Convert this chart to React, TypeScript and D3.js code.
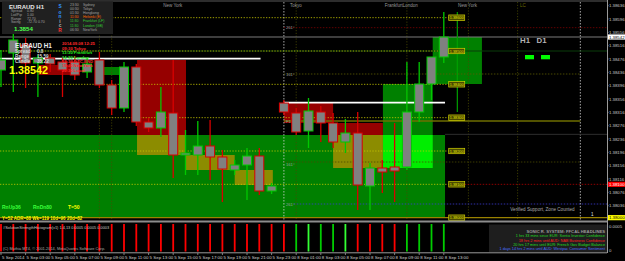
import React from 'react';
import * as d3 from 'd3';

// ---------- data ----------
const OPEN = [1.38443,1.38494,1.38518,1.38464,1.38479,1.38467,1.38467,1.38437,1.38473,1.38398,1.38329,1.38452,1.38287,1.38269,1.38314,1.38188,1.38188,1.38215,1.38182,1.38143,1.38158,1.38185,1.38080,1.38344,1.38314,1.38260,1.38317,1.38284,1.38227,1.38254,1.38095,1.38149,1.38152,1.38152,1.38317,1.38401,1.38482];
const HIGH = [1.38503,1.38563,1.38539,1.38488,1.38491,1.38479,1.38485,1.38479,1.38497,1.38413,1.38467,1.38461,1.38299,1.38392,1.38473,1.38263,1.38290,1.38293,1.38203,1.38173,1.38209,1.38209,1.38104,1.38353,1.38329,1.38359,1.38335,1.38314,1.38296,1.38317,1.38164,1.38173,1.38284,1.38467,1.38467,1.38482,1.38617];
const LOW = [1.38392,1.38377,1.38389,1.38362,1.38437,1.38362,1.38413,1.38419,1.38389,1.38308,1.38317,1.38275,1.38257,1.38242,1.38119,1.38128,1.38128,1.38113,1.38047,1.38128,1.38053,1.38068,1.38071,1.38308,1.38248,1.38209,1.38227,1.38209,1.38194,1.38023,1.38023,1.38074,1.38047,1.38143,1.38287,1.38353,1.38464];
const CLOSE = [1.38473,1.38533,1.38464,1.38479,1.38461,1.38443,1.38428,1.38461,1.38398,1.38329,1.38452,1.38287,1.38269,1.38317,1.38188,1.38194,1.38215,1.38182,1.38146,1.38158,1.38185,1.38080,1.38095,1.38317,1.38257,1.38320,1.38284,1.38227,1.38254,1.38098,1.38149,1.38137,1.38140,1.38317,1.38401,1.38482,1.38542];

const HIST_DIR = ['dn','dn','dn','dn','dn','dn','dn','dn','dn','dn','dn','dn','dn','dn','dn','dn','dn','dn','dn','dn','dn','dn','dn','dn','up','up2','up','up','up2','dn','dn','dn','dn','up','up','up','up'];
const HIST_VAL = [0.0005,0.0005,0.0005,0.0005,0.0005,0.0005,0.0005,0.0005,0.0005,0.0005,0.0005,0.0005,0.0005,0.0005,0.0005,0.0005,0.0005,0.0005,0.0005,0.0005,0.0005,0.0005,0.0005,0.0005,0.0005,0.0005,0.0005,0.0005,0.0005,0.0005,0.0005,0.0005,0.0005,0.0005,0.0005,0.0005,0.0005];

const TIME_LABELS = ['5 Sep 2014','5 Sep 03:00','5 Sep 05:00','5 Sep 07:00','5 Sep 09:00','5 Sep 11:00','5 Sep 13:00','5 Sep 15:00','5 Sep 17:00','5 Sep 19:00','5 Sep 21:00','5 Sep 23:00','8 Sep 01:00','8 Sep 03:00','8 Sep 05:00','8 Sep 07:00','8 Sep 09:00','8 Sep 11:00','8 Sep 13:00'];
const PRICE_TICKS = [1.38636,1.38596,1.38556,1.38516,1.38476,1.38436,1.38396,1.38356,1.38316,1.38276,1.38236,1.38196,1.38156,1.38116,1.38076,1.38036];
const PIVOTS = [1.386,1.385,1.384,1.383,1.382,1.381,1.380];
const CURRENT = 1.38542;

// zones: [barFrom, barTo, priceTop, priceBottom, kind]
const ZONES: [number, number, number, number, string][] = [
  [-0.2, 36.1, 1.38248, 1.37999, 'demand'],
  [31.05, 35.1, 1.38401, 1.38248, 'demand'],
  [35.1, 39.1, 1.38542, 1.38401, 'demand'],
  [31.05, 35.1, 1.38248, 1.38149, 'fresh'],
  [23.0, 27.0, 1.38344, 1.38284, 'supply'],
  [27.0, 31.05, 1.38284, 1.38248, 'supply'],
  [27.0, 31.05, 1.38248, 1.38149, 'weak'],
  [11.06, 15.04, 1.38473, 1.38248, 'supply'],
  [11.06, 15.04, 1.38248, 1.38188, 'weak'],
  [15.04, 19.0, 1.38188, 1.38143, 'weak'],
  [19.0, 22.1, 1.38143, 1.38098, 'weak'],
  [3.0, 5.8, 1.38458, 1.38428, 'supply'],
  [7.8, 9.8, 1.38452, 1.38428, 'demand'],
];
const ZONE_COLOR: Record<string, string> = { demand: '#008000', fresh: '#00ee00', supply: '#960000', weak: '#8c8c00' };

const SESSION_LINE_BARS = [8, 9, 24, 33, 38, 42];
const DAY_LINE_BARS = [23, 47.1];
const SESSIONS: [string, number, string][] = [['New York', 13.2, '#9a9a9a'], ['Tokyo', 23.5, '#9a9a9a'], ['FrankfurtLondon', 31.2, '#9a9a9a'], ['New York', 37.15, '#9a9a9a'], ['LC', 42.2, '#6a6a00']];
const FIB_LABELS: [string, number][] = [['261°', 1.38570], ['161°', 1.38431], ['F1', 1.38290], ['161°', 1.38160], ['261°', 1.38041]];

const FONT = 'Liberation Sans, Arial, sans-serif';

export default function App() {
  const RX = 607;
  const x = d3.scaleLinear().domain([0, 36]).range([1, 443.8]);
  const y = d3.scaleLinear().domain([1.38653, 1.37993]).range([0, 220]);
  const yh = d3.scaleLinear().domain([0, 0.0005]).range([251.5, 224]);
  const bw = 4.5;
  const fmt = (v: number) => v.toFixed(5);

  const T = (p: any) => <text fontFamily={FONT} {...p}>{p.children}</text>;

  return (
    <svg width={625} height={261} style={{ position: 'fixed', left: 0, top: 0, background: '#000' }}>
      <rect width={625} height={261} fill="#000" />
      {/* zones */}
      {ZONES.map((z, i) => (
        <rect key={'z' + i} x={x(z[0])} y={y(z[2])} width={x(z[1]) - x(z[0])} height={y(z[3]) - y(z[2])} fill={ZONE_COLOR[z[4]]} />
      ))}
      <line x1={0} x2={RX} y1={1} y2={1} stroke="#3c3c3c" strokeWidth={1.5} />
      {/* session vertical lines */}
      {SESSION_LINE_BARS.map((b, i) => (
        <line key={'sv' + i} x1={x(b)} x2={x(b)} y1={2} y2={219} stroke="#4a4a00" strokeWidth={0.8} strokeDasharray="1.2 1.6" />
      ))}
      {DAY_LINE_BARS.map((b, i) => (
        <line key={'dv' + i} x1={x(b)} x2={x(b)} y1={2} y2={220} stroke="#d0d0d0" strokeWidth={0.8} strokeDasharray="1.5 1.5" />
      ))}
      {/* misc level lines */}
      <line x1={x(23)} x2={RX} y1={y(1.3857)} y2={y(1.3857)} stroke="#780000" strokeWidth={0.8} strokeDasharray="1.5 1.5" />
      <line x1={x(23)} x2={x(47.1)} y1={y(1.38431)} y2={y(1.38431)} stroke="#5a5a00" strokeWidth={0.8} strokeDasharray="1.5 1.5" />
      <line x1={x(23)} x2={x(47.1)} y1={y(1.3829)} y2={y(1.3829)} stroke="#6e6e00" strokeWidth={1.3} />
      <line x1={x(36.1)} x2={RX} y1={y(1.3825)} y2={y(1.3825)} stroke="#2e2e2e" strokeWidth={1} />
      <line x1={x(23)} x2={x(47.1)} y1={y(1.38167)} y2={y(1.38167)} stroke="#4a4a00" strokeWidth={0.8} strokeDasharray="1.5 1.5" />
      <line x1={x(23.8)} x2={RX} y1={y(1.38041)} y2={y(1.38041)} stroke="#3a3ad0" strokeWidth={0.8} strokeDasharray="1.5 1.5" />
      <line x1={0} x2={RX} y1={y(1.385)} y2={y(1.385)} stroke="#0b3d0b" strokeWidth={1} />
      <line x1={0} x2={RX} y1={y(CURRENT)} y2={y(CURRENT)} stroke="#7a7a7a" strokeWidth={1} />
      {/* pivot dotted lines */}
      {PIVOTS.slice(0, 6).map((p, i) => (
        <line key={'pv' + i} x1={0} x2={x(36.4)} y1={y(p)} y2={y(p)} stroke="#c8c800" strokeWidth={0.8} strokeDasharray="1.3 1.5" />
      ))}
      <line x1={x(37.7)} x2={RX} y1={y(1.381)} y2={y(1.381)} stroke="#b00000" strokeWidth={0.8} strokeDasharray="1.5 1.5" />
      <line x1={0} x2={RX} y1={y(1.38)} y2={y(1.38)} stroke="#9a8200" strokeWidth={1.3} />
      {/* white lines */}
      <line x1={0} x2={x(21.1)} y1={y(1.38477)} y2={y(1.38477)} stroke="#ffffff" strokeWidth={1.8} />
      <line x1={x(23)} x2={x(36.1)} y1={y(1.38345)} y2={y(1.38345)} stroke="#ffffff" strokeWidth={1.8} />
      {/* range line */}
      <line x1={x(37.1)} x2={x(37.1)} y1={y(1.38617)} y2={y(1.38317)} stroke="#00a000" strokeWidth={1.2} />
      {/* candles */}
      {OPEN.map((o, i) => {
        const c = CLOSE[i];
        const bull = c >= o;
        const col = bull ? '#00c800' : '#d80000';
        const top = y(Math.max(o, c));
        const h = Math.max(1.2, Math.abs(y(o) - y(c)));
        return (
          <g key={'c' + i}>
            <line x1={x(i)} x2={x(i)} y1={y(HIGH[i])} y2={y(LOW[i])} stroke={col} strokeWidth={1.3} />
            <rect x={x(i) - bw} y={top} width={bw * 2} height={h} fill="#808080" stroke={col} strokeWidth={1} />
          </g>
        );
      })}
      {/* fib labels */}
      {FIB_LABELS.map((f, i) => (
        <T key={'fl' + i} x={x(23) + 2} y={y(f[1]) + 1.5} fontSize={4.2} fill="#9a9a9a">{f[0]}</T>
      ))}
      {/* pivot boxes */}
      {PIVOTS.map((p, i) => (
        <g key={'pb' + i}>
          <rect x={x(36.4)} y={y(p) - 2.7} width={x(37.7) - x(36.4)} height={5.4} fill="#4a4a00" stroke="#d0d000" strokeWidth={0.7} />
          <T x={(x(36.4) + x(37.7)) / 2} y={y(p) + 1.5} fontSize={3.8} fill="#e0e000" textAnchor="middle">{fmt(p)}</T>
        </g>
      ))}
      {/* session labels */}
      {SESSIONS.map((s, i) => (
        <T key={'ss' + i} x={x(s[1])} y={6.5} fontSize={4.5} fill={s[2]}>{s[0]}</T>
      ))}
      {/* H1 D1 */}
      <T x={520} y={43.3} fontSize={7.8} fontWeight="bold" fill="#b4b4b4">H1</T>
      <T x={536.5} y={43.3} fontSize={7.8} fontWeight="bold" fill="#b4b4b4">D1</T>
      <rect x={525} y={55} width={9} height={4.3} fill="#00ff00" />
      <rect x={541} y={55} width={9} height={4.3} fill="#00ff00" />
      <T x={542.5} y={210.5} fontSize={4.6} fill="#a8a8a8" textAnchor="middle">Verified Support, Zone Counted</T>
      <T x={591} y={216} fontSize={4.5} fill="#e0e0e0">1</T>

      {/* top-left panel 1 */}
      <rect x={2} y={1.5} width={111} height={32.5} fill="#202020" />
      <T x={9} y={8.5} fontSize={6} fontWeight="bold" fill="#e6e6e6">EURAUD  H1</T>
      {[['Spread', '0.80', 12.3], ['Lot/Pip', '1.00', 16], ['Range', '72.70', 19.7], ['Swing', '-72.70  0.70', 23.4]].map((r: any, i) => (
        <g key={'p1' + i}>
          <T x={11} y={r[2]} fontSize={3.5} fill="#a0a0a0">{r[0]}</T>
          <T x={27} y={r[2]} fontSize={3.5} fill="#a0a0a0">{r[1]}</T>
        </g>
      ))}
      <T x={14} y={30.8} fontSize={6.2} fontWeight="bold" fill="#4cff4c">1.3854</T>
      {[['S', 8.3, '#3399ff'], ['o', 13.6, '#3399ff'], ['n', 18.2, '#3399ff'], ['i', 22.6, '#b0b0b0'], ['c', 26.8, '#b0b0b0'], ['R', 31.8, '#ff3333']].map((r: any, i) => (
        <T key={'sr' + i} x={60} y={r[1]} fontSize={4.8} fontWeight="bold" fill={r[2]} textAnchor="middle">{r[0]}</T>
      ))}
      {[['23:30', 'Sydney', '#a0a0a0'], ['00:30', 'Tokyo', '#a0a0a0'], ['01:30', 'Hongkong', '#a0a0a0'], ['11:30', 'Helsinki (E)', '#ff6a00'], ['11:30', 'Frankfurt (LF)', '#33cc33'], ['11:30', 'London (GB)', '#33cc33'], ['06:30', 'NewYork', '#a0a0a0']].map((r: any, i) => (
        <g key={'se' + i}>
          <T x={70} y={5.8 + i * 4.17} fontSize={3.5} fill={r[2]}>{r[0]}</T>
          <T x={83} y={5.8 + i * 4.17} fontSize={3.5} fill={r[2]}>{r[1]}</T>
        </g>
      ))}
      {/* panel 2 */}
      <T x={15} y={47.6} fontSize={6.3} fontWeight="bold" fill="#ececec">EURAUD  H1</T>
      {[['Spread', '0.8', 52.7], ['Range', '15.59', 58], ['Candle', '35:22', 63.4]].map((r: any, i) => (
        <g key={'p2' + i}>
          <T x={15} y={r[2]} fontSize={4.6} fontWeight="bold" fill="#d8d8d8">{r[0]}</T>
          <T x={37} y={r[2]} fontSize={4.6} fontWeight="bold" fill="#d8d8d8">{r[1]}</T>
        </g>
      ))}
      <T x={9} y={74.3} fontSize={10.8} fontWeight="bold" fill="#ffff00">1.38542</T>
      {[['2014.09.08 12:25', '#ff2a2a'], ['09:30  Tokyo', '#ff2a2a'], ['13:30  Frankfurt', '#22ee22'], ['14:30  London', '#22ee22'], ['19:30  GTC-END', '#ff2a2a'], ['19:30  New York', '#ff2a2a'], ['20:30  Local', '#ff2a2a']].map((r: any, i) => (
        <T key={'rl' + i} x={62} y={45.2 + i * 4.45} fontSize={4.2} fontWeight="bold" fill={r[1]}>{r[0]}</T>
      ))}
      <T x={2} y={209} fontSize={5} fontWeight="bold" fill="#3cff3c">RnUp36</T>
      <T x={33} y={209} fontSize={5} fontWeight="bold" fill="#3cff3c">RnDn80</T>
      <T x={68} y={209} fontSize={5} fontWeight="bold" fill="#ffff00">T=50</T>
      <T x={2} y={219.5} fontSize={4.5} fontWeight="bold" fill="#ffff00">Y=52   ADR=88   Wk=119   10d=96   20d=82</T>

      {/* right price axis */}
      <rect x={RX} y={0} width={625 - RX} height={261} fill="#000" />
      <line x1={RX + 0.5} x2={RX + 0.5} y1={0} y2={253} stroke="#9a9a9a" strokeWidth={1} />
      {PRICE_TICKS.map((p, i) => (
        <g key={'pt' + i}>
          <line x1={RX} x2={RX + 1.5} y1={y(p)} y2={y(p)} stroke="#9a9a9a" strokeWidth={0.8} />
          <T x={RX + 2} y={y(p) + 1.5} fontSize={4.3} fill="#c8c8c8">{fmt(p)}</T>
        </g>
      ))}
      <rect x={RX + 1} y={y(CURRENT) - 2.6} width={17} height={5.2} fill="#ffffff" />
      <T x={RX + 2} y={y(CURRENT) + 1.5} fontSize={4.3} fill="#000">{fmt(CURRENT)}</T>
      <rect x={RX + 1} y={y(1.381) - 2.6} width={17} height={5.2} fill="#ff0000" />
      <T x={RX + 2} y={y(1.381) + 1.5} fontSize={4.3} fill="#ffffff">{fmt(1.381)}</T>
      <rect x={RX + 1} y={y(1.38) - 2.6} width={17} height={5.2} fill="#ffff00" />
      <T x={RX + 2} y={y(1.38) + 1.5} fontSize={4.3} fill="#000">{fmt(1.38)}</T>

      {/* separator */}
      <rect x={0} y={220.5} width={RX} height={2} fill="#8c8c8c" />
      {/* sub window histogram */}
      {HIST_VAL.map((v, i) => (
        <line key={'h' + i} x1={x(i)} x2={x(i)} y1={yh(0)} y2={yh(v)} strokeWidth={1.8}
          stroke={HIST_DIR[i] === 'dn' ? '#ff0000' : HIST_DIR[i] === 'up2' ? '#33ff33' : '#00cc00'} />
      ))}
      <T x={3} y={228.8} fontSize={3.9} fill="#c8c8c8">#SolutionStrengthHistogram(v1) 1.4,13  0.0005  0.0005  0.0003</T>
      <T x={3} y={250} fontSize={3.9} fill="#a8a8a8">(C) Muthia MT4, © 2001-2014, MetaQuotes Software Corp.</T>
      <rect x={489} y={224.5} width={RX - 489} height={27.5} fill="#1e1e1e" />
      {[['SONIC R. SYSTEM: FFCAL HEADLINES', '#9a9a9a'], ['1 hrs 33 mins since EUR: Sentix Investor Confidence', '#22dd22'], ['18 hrs 2 mins until AUD: NAB Business Confidence', '#ff2020'], ['20 hrs 17 mins until EUR: French Gov Budget Balance', '#22dd22'], ['1 days 14 hrs 2 mins until AUD: Westpac Consumer Sentiment', '#4a70ff']].map((r: any, i) => (
        <T key={'hl' + i} x={605} y={232.8 + i * 4.35} fontSize={i === 0 ? 4.2 : 3.8} fontWeight={i === 0 ? 'bold' : 'normal'} fill={r[1]} textAnchor="end">{r[0]}</T>
      ))}
      <T x={RX + 2} y={227.5} fontSize={4.3} fill="#c8c8c8">0.0005</T>
      <T x={RX + 2} y={252} fontSize={4.3} fill="#c8c8c8">0</T>
      <line x1={0} x2={RX} y1={252.8} y2={252.8} stroke="#9a9a9a" strokeWidth={1} />
      {/* time axis */}
      {TIME_LABELS.map((t, i) => (
        <g key={'tl' + i}>
          <line x1={x(i * 2)} x2={x(i * 2)} y1={253} y2={255} stroke="#9a9a9a" strokeWidth={0.8} />
          <T x={x(i * 2) + 1} y={259} fontSize={4.4} fill="#d0d0d0">{t}</T>
        </g>
      ))}
    </svg>
  );
}
